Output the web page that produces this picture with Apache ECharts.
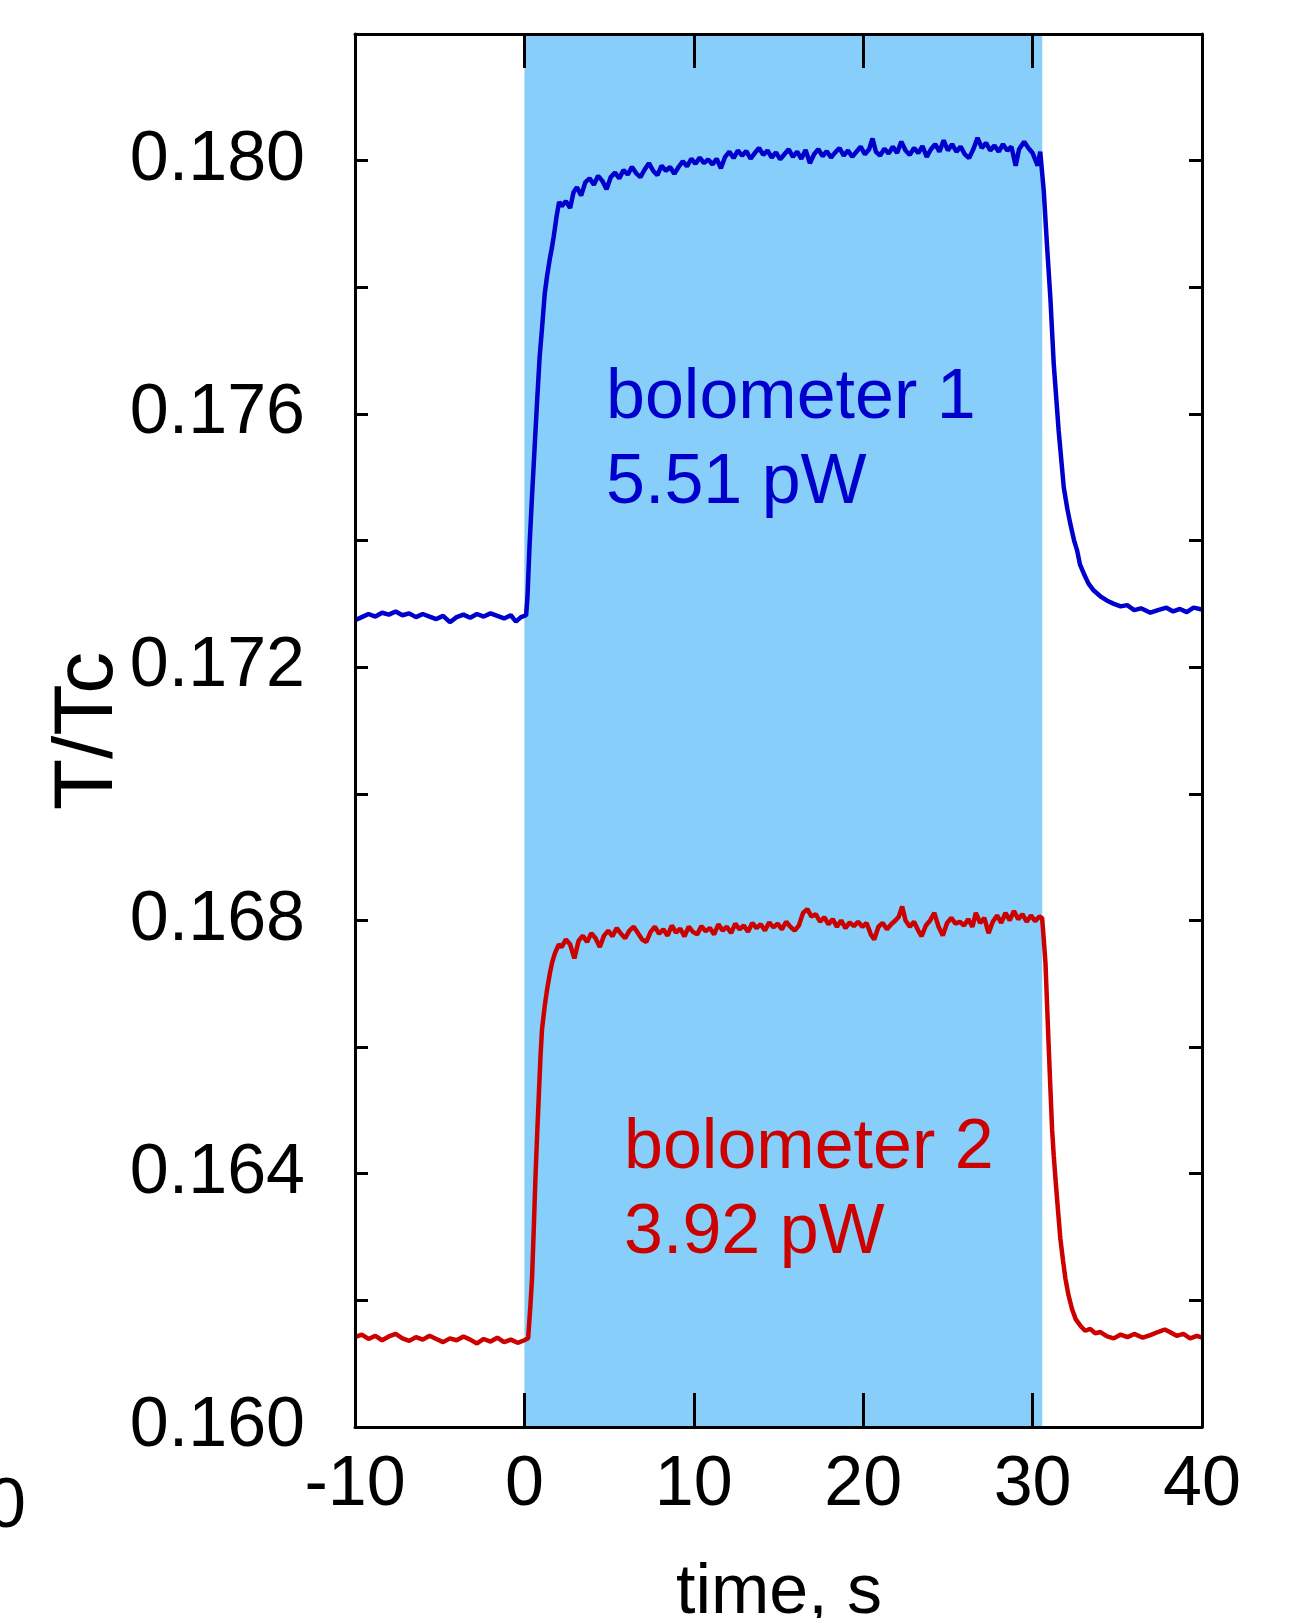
<!DOCTYPE html>
<html lang="en">
<head>
    <meta charset="UTF-8">
    <title>T/Tc vs time</title>
    <script src="https://cdn.jsdelivr.net/npm/echarts@6/dist/echarts.min.js"></script>
    <style>
        html, body { margin: 0; padding: 0; background: #fff; }
        #chart { width: 1291px; height: 1618px; }
    </style>
</head>
<body>
<div id="chart"></div>
<script>
    // axis ranges and ticks
    var xMin = -10, xMax = 40, xStep = 10;
    var yMin = 0.160, yMax = 0.182, yStep = 0.002;
    // light pulse window (s)
    var pulse = [0, 30.57];

    // bolometer 1, 5.51 pW  [time s, T/Tc]
    var bolo1 = [
        [-10,0.17274],[-9.6,0.17279],[-9.2,0.17284],[-8.8,0.17280],[-8.4,0.17286],[-8,0.17283],
        [-7.6,0.17288],[-7.2,0.17282],[-6.8,0.17285],[-6.4,0.17279],[-6,0.17284],[-5.6,0.17280],
        [-5.2,0.17276],[-4.8,0.17281],[-4.4,0.17271],[-4,0.17279],[-3.6,0.17283],[-3.2,0.17278],
        [-2.8,0.17284],[-2.4,0.17280],[-2,0.17285],[-1.6,0.17281],[-1.2,0.17277],[-0.8,0.17282],
        [-0.5,0.17272],[-0.2,0.17279],[0.1,0.17282],
        [0.18,0.17310],[0.3,0.17390],[0.45,0.17470],[0.6,0.17545],[0.75,0.17620],[0.9,0.17690],
        [1.04,0.17735],[1.2,0.17790],[1.34,0.17818],[1.5,0.17845],[1.62,0.17862],[1.73,0.17880],
        [1.9,0.17912],[2.05,0.17935],
        [2.2,0.17928],[2.45,0.17936],[2.7,0.17925],[2.9,0.17950],[3.1,0.17958],[3.35,0.17945],
        [3.6,0.17966],[3.85,0.17972],[4.1,0.17962],[4.35,0.17976],[4.6,0.17968],[4.85,0.17955],
        [5.1,0.17974],[5.35,0.17981],[5.6,0.17972],[5.85,0.17985],[6.1,0.17978],[6.35,0.17990],
        [6.6,0.17980],[6.85,0.17974],[7.1,0.17986],[7.35,0.17996],[7.6,0.17984],[7.85,0.17977],
        [8.1,0.17992],[8.35,0.17984],[8.6,0.17990],[8.85,0.17979],[9.1,0.17990],[9.35,0.17999],
        [9.6,0.17991],[9.85,0.18003],[10.1,0.17995],[10.35,0.18005],[10.6,0.17996],[10.85,0.18002],
        [11.1,0.17994],[11.35,0.18003],[11.6,0.17988],[11.85,0.18006],[12.1,0.18014],[12.35,0.18004],
        [12.6,0.18016],[12.85,0.18008],[13.1,0.18015],[13.35,0.18003],[13.6,0.18012],[13.85,0.18020],
        [14.1,0.18009],[14.35,0.18016],[14.6,0.18005],[14.85,0.18013],[15.1,0.18002],[15.35,0.18010],
        [15.6,0.18018],[15.85,0.18006],[16.1,0.18014],[16.35,0.18003],[16.6,0.18017],[16.85,0.17996],
        [17.1,0.18010],[17.35,0.18018],[17.6,0.18007],[17.85,0.18015],[18.1,0.18005],[18.35,0.18013],
        [18.6,0.18020],[18.85,0.18008],[19.1,0.18016],[19.35,0.18006],[19.6,0.18014],[19.85,0.18022],
        [20.1,0.18010],[20.35,0.18018],[20.55,0.18035],[20.75,0.18014],[21.0,0.18008],[21.25,0.18019],
        [21.5,0.18011],[21.75,0.18022],[22.0,0.18012],[22.25,0.18030],[22.5,0.18016],[22.75,0.18009],
        [23.0,0.18020],[23.25,0.18012],[23.5,0.18023],[23.75,0.18006],[24.0,0.18018],[24.25,0.18026],
        [24.5,0.18014],[24.75,0.18032],[25.0,0.18016],[25.25,0.18026],[25.5,0.18014],[25.75,0.18022],
        [26.0,0.18010],[26.25,0.18004],[26.5,0.18018],[26.75,0.18036],[27.0,0.18020],[27.25,0.18028],
        [27.5,0.18016],[27.75,0.18024],[28.0,0.18014],[28.25,0.18026],[28.5,0.18016],[28.75,0.18022],
        [29.0,0.17992],[29.2,0.18018],[29.5,0.18030],[29.75,0.18020],[30.0,0.18012],[30.3,0.17992],
        [30.45,0.18014],[30.56,0.18012],
        [30.66,0.17952],[30.86,0.17862],[31.05,0.17783],[31.25,0.17678],[31.54,0.17573],[31.84,0.17484],
        [32.05,0.17450],[32.23,0.17426],[32.45,0.17400],[32.63,0.17384],[32.8,0.17362],[33.02,0.17348],
        [33.3,0.17332],[33.61,0.17321],[34.0,0.17312],[34.4,0.17305],[34.8,0.17300],[35.2,0.17296],
        [35.58,0.17298],[36.0,0.17290],[36.4,0.17293],[36.95,0.17286],[37.4,0.17290],[37.9,0.17294],
        [38.3,0.17288],[38.7,0.17292],[39.1,0.17287],[39.5,0.17294],[40,0.17291]
    ];

    // bolometer 2, 3.92 pW  [time s, T/Tc]
    var bolo2 = [
        [-10,0.16142],[-9.6,0.16146],[-9.2,0.16139],[-8.8,0.16144],[-8.4,0.16137],[-8,0.16143],
        [-7.6,0.16147],[-7.2,0.16140],[-6.8,0.16136],[-6.4,0.16142],[-6,0.16138],[-5.6,0.16144],
        [-5.2,0.16139],[-4.8,0.16134],[-4.4,0.16140],[-4,0.16137],[-3.6,0.16143],[-3.2,0.16138],
        [-2.8,0.16132],[-2.4,0.16139],[-2,0.16135],[-1.6,0.16141],[-1.2,0.16134],[-0.8,0.16138],
        [-0.4,0.16133],[0,0.16137],[0.22,0.16140],
        [0.35,0.16190],[0.45,0.16234],[0.55,0.16310],[0.65,0.16392],[0.75,0.16460],[0.85,0.16523],
        [0.95,0.16585],[1.04,0.16628],[1.2,0.16665],[1.34,0.16691],[1.5,0.16716],[1.63,0.16733],
        [1.8,0.16748],[2.03,0.16762],
        [2.2,0.16758],[2.45,0.16770],[2.7,0.16762],[2.95,0.16740],[3.2,0.16768],[3.45,0.16776],
        [3.7,0.16766],[3.95,0.16780],[4.2,0.16772],[4.45,0.16758],[4.7,0.16776],[4.95,0.16784],
        [5.2,0.16775],[5.45,0.16788],[5.7,0.16779],[5.95,0.16772],[6.2,0.16784],[6.45,0.16790],
        [6.7,0.16780],[6.95,0.16770],[7.2,0.16766],[7.45,0.16782],[7.7,0.16790],[7.95,0.16779],
        [8.2,0.16786],[8.45,0.16776],[8.7,0.16792],[8.95,0.16781],[9.2,0.16787],[9.45,0.16775],
        [9.7,0.16790],[9.95,0.16782],[10.2,0.16778],[10.45,0.16791],[10.7,0.16783],[10.95,0.16788],
        [11.2,0.16778],[11.45,0.16794],[11.7,0.16784],[11.95,0.16790],[12.2,0.16780],[12.45,0.16795],
        [12.7,0.16786],[12.95,0.16792],[13.2,0.16782],[13.45,0.16796],[13.7,0.16788],[13.95,0.16794],
        [14.2,0.16784],[14.45,0.16797],[14.7,0.16789],[14.95,0.16795],[15.2,0.16786],[15.45,0.16798],
        [15.7,0.16790],[15.95,0.16784],[16.2,0.16792],[16.45,0.16812],[16.7,0.16818],[16.95,0.16806],
        [17.2,0.16810],[17.45,0.16798],[17.7,0.16805],[17.95,0.16794],[18.2,0.16802],[18.45,0.16790],
        [18.7,0.16800],[18.95,0.16788],[19.2,0.16797],[19.45,0.16791],[19.7,0.16798],[19.95,0.16790],
        [20.2,0.16796],[20.45,0.16778],[20.65,0.16770],[20.9,0.16790],[21.15,0.16796],[21.4,0.16786],
        [21.65,0.16794],[21.9,0.16800],[22.1,0.16806],[22.3,0.16822],[22.5,0.16800],[22.75,0.16790],
        [23.0,0.16798],[23.25,0.16784],[23.45,0.16775],[23.7,0.16792],[23.95,0.16800],[24.2,0.16812],
        [24.45,0.16790],[24.7,0.16776],[24.95,0.16796],[25.2,0.16804],[25.45,0.16795],[25.7,0.16798],
        [25.95,0.16792],[26.2,0.16802],[26.45,0.16790],[26.65,0.16812],[26.9,0.16796],[27.15,0.16804],
        [27.4,0.16780],[27.65,0.16798],[27.9,0.16808],[28.15,0.16796],[28.4,0.16812],[28.65,0.16800],
        [28.9,0.16815],[29.15,0.16802],[29.4,0.16810],[29.65,0.16798],[29.9,0.16808],[30.15,0.16799],
        [30.4,0.16806],[30.56,0.16804],
        [30.66,0.16770],[30.76,0.16733],[30.85,0.16670],[30.95,0.16601],[31.05,0.16535],[31.15,0.16470],
        [31.25,0.16428],[31.35,0.16392],[31.5,0.16342],[31.64,0.16297],[31.8,0.16262],[31.94,0.16234],
        [32.12,0.16208],[32.33,0.16186],[32.55,0.16170],[32.82,0.16160],[33.1,0.16152],[33.4,0.16155],
        [33.7,0.16148],[34.0,0.16150],[34.4,0.16143],[34.79,0.16140],[35.2,0.16146],[35.6,0.16142],
        [36.0,0.16147],[36.5,0.16141],[36.95,0.16145],[37.4,0.16150],[37.8,0.16154],[38.1,0.16150],
        [38.5,0.16144],[38.9,0.16147],[39.3,0.16140],[39.7,0.16144],[40,0.16141]
    ];

    var FONT = '"Liberation Sans", Arial, sans-serif';
    var FS = 70;

    var myChart = echarts.init(document.getElementById('chart'), null, {renderer: 'canvas'});

    function xAxisCfg(pos, showLabel) {
        return {
            type: 'value', position: pos, min: xMin, max: xMax, interval: xStep, z: 10,
            axisLine: {show: true, onZero: false, lineStyle: {color: '#000', width: 3}},
            axisTick: {show: true, inside: true, length: 34, lineStyle: {color: '#000', width: 3}},
            axisLabel: {show: showLabel, margin: 24, color: '#000', fontSize: FS, fontFamily: FONT},
            splitLine: {show: false}
        };
    }
    function yAxisCfg(pos, showLabel) {
        return {
            type: 'value', position: pos, min: yMin, max: yMax, interval: yStep, z: 10,
            axisLine: {show: true, onZero: false, lineStyle: {color: '#000', width: 3}},
            axisTick: {show: true, inside: true, length: 13, lineStyle: {color: '#000', width: 3}},
            axisLabel: {
                show: showLabel, margin: 50, color: '#000', fontSize: FS, fontFamily: FONT,
                formatter: function (v) {
                    // only every second tick carries a label
                    return Math.round(v * 1000) % 4 === 0 ? v.toFixed(3) : '';
                }
            },
            splitLine: {show: false}
        };
    }

    // text helper for annotations (drawn above the pulse band)
    function label(txt, x, y, color, extra) {
        var st = {text: txt, fill: color, font: FS + 'px ' + FONT, verticalAlign: 'middle'};
        for (var k in extra) { st[k] = extra[k]; }
        return {type: 'text', x: x, y: y, z: 100, silent: true, style: st};
    }

    var option = {
        animation: false,
        backgroundColor: '#fff',
        grid: {left: 355, right: 89, top: 34, bottom: 191, containLabel: false},
        xAxis: [xAxisCfg('bottom', true), xAxisCfg('top', false)],
        yAxis: [yAxisCfg('left', true), yAxisCfg('right', false)],
        series: [
            {
                name: 'pulse', type: 'line', data: [], z: 1, silent: true,
                markArea: {
                    silent: true,
                    itemStyle: {color: '#87CEFA', opacity: 1},
                    data: [[{xAxis: pulse[0]}, {xAxis: pulse[1]}]]
                }
            },
            {
                name: 'bolometer 1', type: 'line', data: bolo1, z: 3,
                showSymbol: false, symbol: 'none',
                lineStyle: {color: '#0000CD', width: 4.5}
            },
            {
                name: 'bolometer 2', type: 'line', data: bolo2, z: 3,
                showSymbol: false, symbol: 'none',
                lineStyle: {color: '#CD0000', width: 4.5}
            }
        ],
        graphic: [
            label('bolometer 1', 606, 399, '#0000CD'),
            label('5.51 pW', 606, 484, '#0000CD'),
            label('bolometer 2', 624, 1149, '#CD0000'),
            label('3.92 pW', 624, 1234, '#CD0000'),
            {type: 'text', x: 89, y: 731, z: 100, rotation: Math.PI / 2,
                style: {text: 'T/Tc', fill: '#000', font: '84px ' + FONT, align: 'center', verticalAlign: 'middle'}},
            label('time, s', 779, 1594, '#000', {align: 'center'}),
            label('0', 26, 1508, '#000', {align: 'right'})
        ]
    };

    myChart.setOption(option);
</script>
</body>
</html>
